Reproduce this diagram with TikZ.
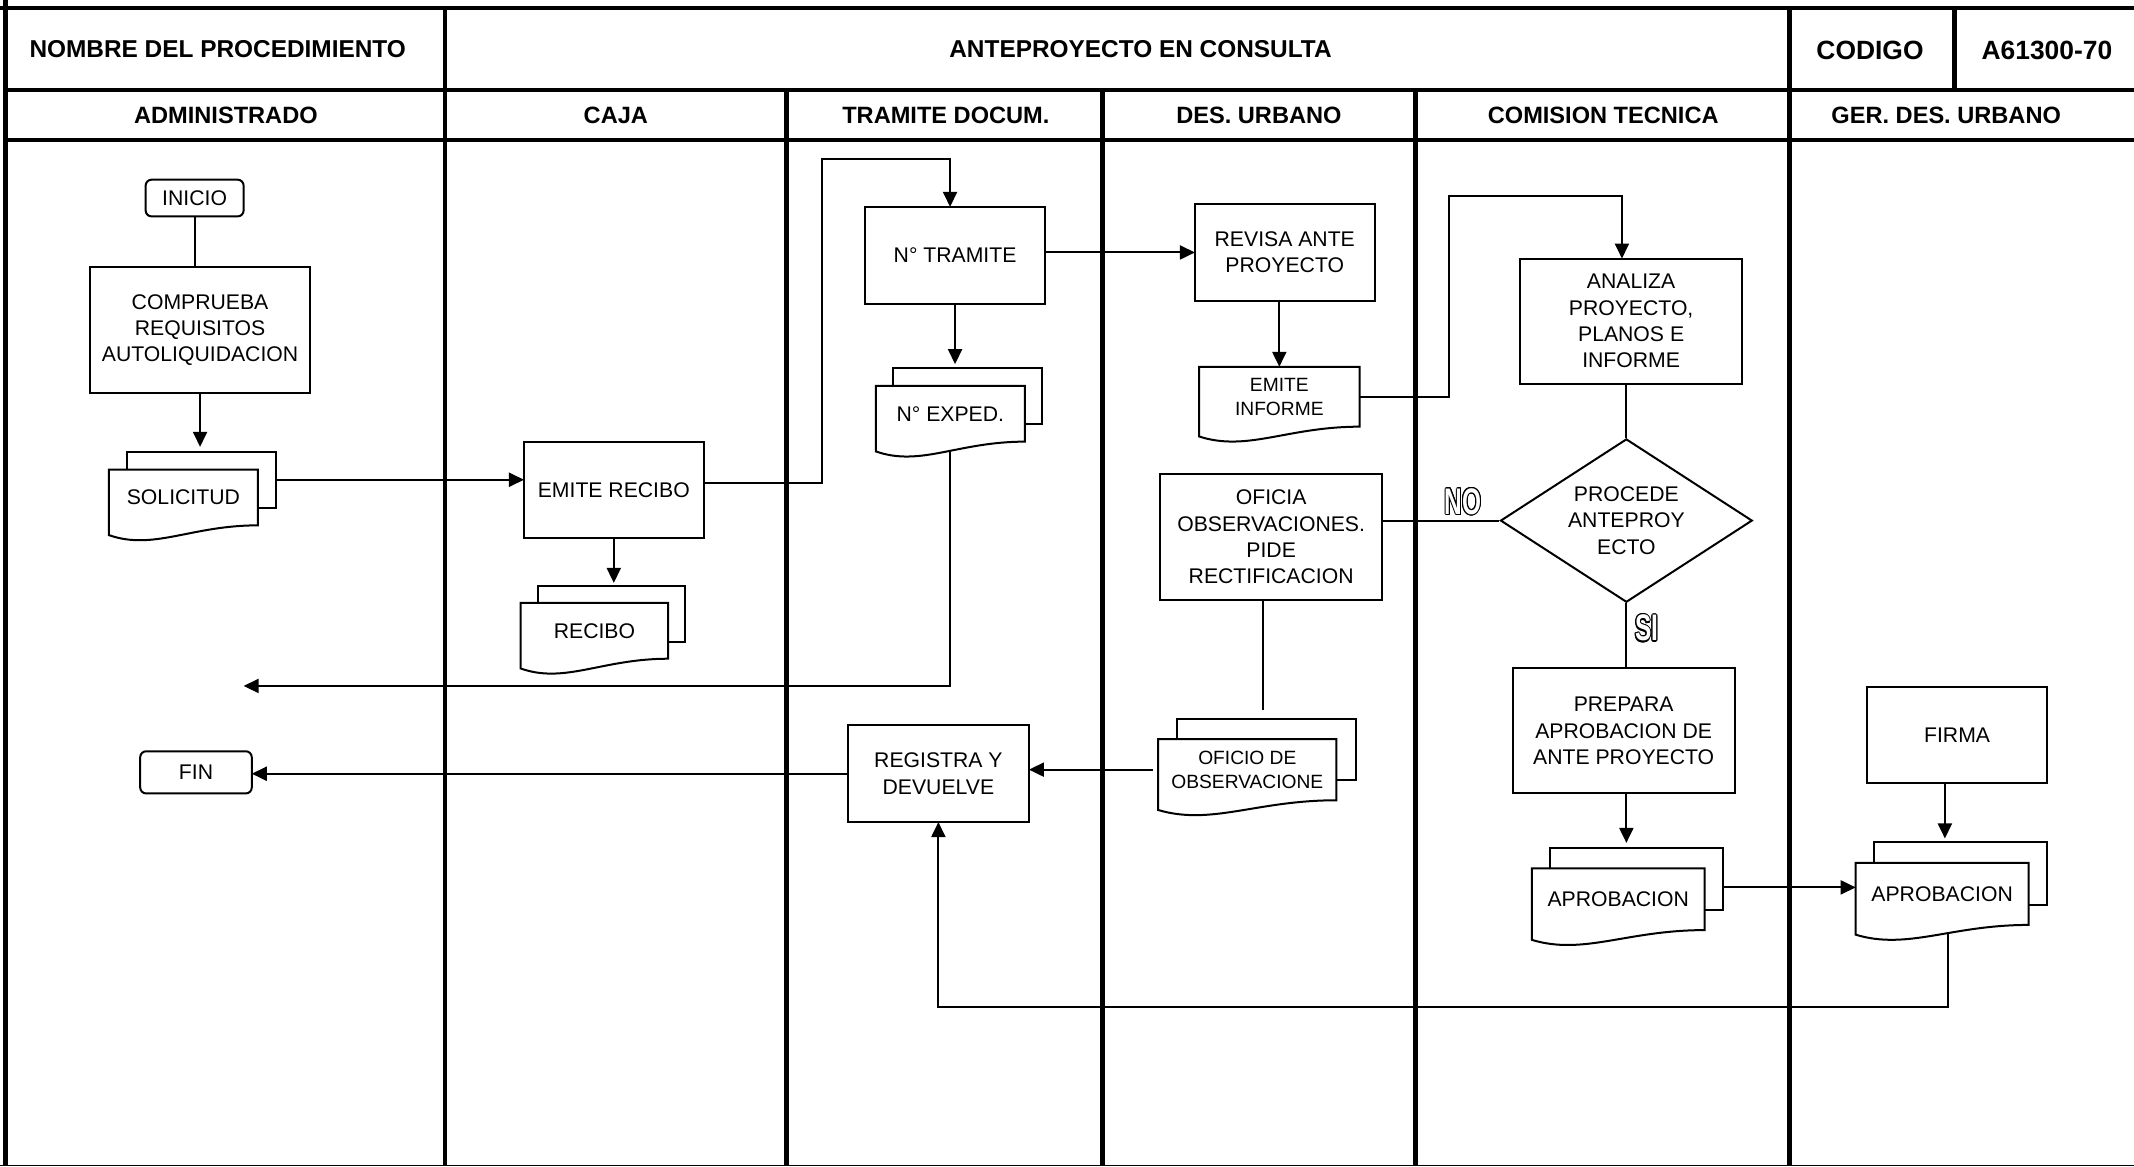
\documentclass[tikz,border=0pt]{standalone}
\usepackage{fontspec}
\setmainfont{Liberation Sans}
\usepackage{graphicx}
\usepackage{contour}
\contourlength{0.6pt}
\usetikzlibrary{arrows.meta,calc,shapes.geometric}
\pgfdeclarelayer{bg}\pgfdeclarelayer{conn}\pgfdeclarelayer{docs}
\pgfsetlayers{bg,conn,docs,main}
\def\pxu{0.6805pt}
\def\dd{7.5pt}
\newcommand\fs{\fontsize{10.6}{13.2}\selectfont}
\newcommand\fss{\fontsize{9.6}{11.8}\selectfont}
\newcommand\fh{\bfseries\fontsize{11.8}{14}\selectfont}
\newcommand\ft{\bfseries\fontsize{12.2}{14}\selectfont}
\newcommand\fc{\bfseries\fontsize{13.2}{15}\selectfont}
\newcommand\outl[1]{\scalebox{0.66}[1]{{\color{white}\bfseries\fontsize{18.5}{18.5}\selectfont\contour{black}{#1}}}}
\newcommand\docpath[1]{\path[docline] let \p1=(#1.north west), \p2=(#1.south east), \n1={\x2-\x1} in
  (\p1) -- (\x2,\y1) -- (\p2) .. controls (\x1+0.55*\n1,\y2) and (\x1+0.3*\n1,\y2-1.7*\dd) .. (\x1,\y2-0.65*\dd) -- cycle;}
\newcommand\backpath[1]{\path[docline] (#1-b.north west) rectangle (#1-b.south east);}
\tikzset{
  lane/.style={line width=2.25pt},
  thinline/.style={line width=0.9pt},
  sz/.style 2 args={minimum width=#1*\pxu, minimum height=#2*\pxu},
  box/.style={draw, line width=1pt, fill=white, align=center, inner sep=1pt, outer sep=0pt, font=\fs},
  term/.style={box, rounded corners=3pt},
  docbox/.style={align=center, inner sep=1pt, outer sep=0pt, font=\fs},
  docline/.style={draw, line width=1pt, fill=white},
  conn/.style={line width=1pt},
  arr/.style={conn, -{Triangle[length=7.5pt,width=7pt]}},
  hdr/.style={font=\fh, inner sep=0pt},
  lbl/.style={inner sep=0pt},
}
\begin{document}
\begin{tikzpicture}[x=\pxu, y=-\pxu]
\useasboundingbox (0,0) rectangle (1568,857);
% ---------- lanes ----------
\begin{pgfonlayer}{bg}
\draw[lane] (0,6) -- (1568,6);
\draw[lane] (4,0) -- (4,857);
\draw[lane] (4,66) -- (1568,66);
\draw[lane] (4,103) -- (1568,103);
\draw[lane] (327,6) -- (327,857);
\draw[lane] (1315,6) -- (1315,857);
\draw[lane] (1436,6) -- (1436,66);
\draw[lane] (578,66) -- (578,857);
\draw[lane] (810,66) -- (810,857);
\draw[lane] (1040,66) -- (1040,857);
\draw[thinline] (0,856.3) -- (1568,856.3);
\end{pgfonlayer}
% ---------- headers ----------
\node[hdr, font=\ft] (hnombre) at (160,36) {NOMBRE DEL PROCEDIMIENTO};
\node[hdr, font=\ft] (htitulo) at (838,36) {ANTEPROYECTO EN CONSULTA};
\node[hdr, font=\fc] (hcodigo) at (1374,37) {CODIGO};
\node[hdr, font=\fc] (hcod) at (1504,37) {A61300-70};
\node[hdr] (hadm) at (166,84.5) {ADMINISTRADO};
\node[hdr] (hcaja) at (452.5,84.5) {CAJA};
\node[hdr] (htram) at (695,84.5) {TRAMITE DOCUM.};
\node[hdr] (hdes) at (925,84.5) {DES. URBANO};
\node[hdr] (hcom) at (1178,84.5) {COMISION TECNICA};
\node[hdr] (hger) at (1430,84.5) {GER. DES. URBANO};
% ---------- nodes ----------
\node[term, sz={72}{27}] (inicio) at (143,145.5) {INICIO};
\node[box, sz={162}{93}] (comprueba) at (147,242.5) {COMPRUEBA\\REQUISITOS\\AUTOLIQUIDACION};
\node[docbox, sz={109.5}{41}] (solicitud) at (134.75,365.5) {SOLICITUD};
\node[docbox, sz={109.5}{41}] (solicitud-b) at (147.75,352.5) {};
\node[box, sz={132}{70}] (emiterecibo) at (451,360) {EMITE RECIBO};
\node[docbox, sz={108.4}{41}] (recibo) at (436.8,463.5) {RECIBO};
\node[docbox, sz={108.4}{41}] (recibo-b) at (449.3,451) {};
\node[box, sz={132.5}{71}] (tramite) at (701.75,187.5) {N° TRAMITE};
\node[docbox, sz={109.5}{41}] (exped) at (698.25,304) {N° EXPED.};
\node[docbox, sz={109.5}{41}] (exped-b) at (710.75,291) {};
\node[box, sz={132}{71}] (revisa) at (944,185.5) {REVISA ANTE\\PROYECTO};
\node[docbox, sz={118}{44}, font=\fss] (informe) at (940,291.5) {EMITE\\INFORME};
\node[box, sz={163}{92}] (analiza) at (1198.5,236) {ANALIZA\\PROYECTO,\\PLANOS E\\INFORME};
\node[diamond, draw, line width=1pt, fill=white, shape aspect=1.54, sz={185}{120}, inner sep=0pt, align=center, font=\fs] (procede) at (1195,382.5) {PROCEDE\\ANTEPROY\\ECTO};
\node[box, sz={163}{93}] (oficia) at (934,394.5) {OFICIA\\OBSERVACIONES.\\PIDE\\RECTIFICACION};
\node[docbox, sz={131}{45}, font=\fss] (oficio) at (916.5,565.5) {OFICIO DE\\OBSERVACIONE};
\node[docbox, sz={131}{45}] (oficio-b) at (930.5,550.5) {};
\node[box, sz={133}{71}] (registra) at (689.5,568.5) {REGISTRA Y\\DEVUELVE};
\node[term, sz={82}{31}] (fin) at (144,567.5) {FIN};
\node[box, sz={163}{92}] (prepara) at (1193,537) {PREPARA\\APROBACION DE\\ANTE PROYECTO};
\node[docbox, sz={127}{45.4}] (aprob1) at (1189,660.7) {APROBACION};
\node[docbox, sz={127}{45.4}] (aprob1-b) at (1202.5,645.7) {};
\node[box, sz={132}{70.5}] (firma) at (1438,540) {FIRMA};
\node[docbox, sz={127}{45.6}] (aprob2) at (1427,656.8) {APROBACION};
\node[docbox, sz={127}{45.6}] (aprob2-b) at (1440.5,641.8) {};
\node[lbl] (no) at (1075,369) {\outl{NO}};
\node[lbl] (si) at (1210,462) {\outl{SI}};
% ---------- document shapes ----------
\begin{pgfonlayer}{docs}
\backpath{solicitud}\docpath{solicitud}
\backpath{recibo}\docpath{recibo}
\backpath{exped}\docpath{exped}
\docpath{informe}
\backpath{oficio}\docpath{oficio}
\backpath{aprob1}\docpath{aprob1}
\backpath{aprob2}\docpath{aprob2}
\end{pgfonlayer}
% ---------- helper coordinates ----------
\coordinate (c1) at (604,117);
\coordinate (ret1) at (179,504);
\coordinate (c2) at (1065,144);
\coordinate (c3) at (928,521.7);
\coordinate (c4) at (1431,740);
\coordinate (e1) at ([yshift=3.4pt]emiterecibo.east);
\coordinate (t1) at ([xshift=-2.5pt]tramite.north);
\coordinate (an1) at ([xshift=-4.6pt]analiza.north);
\coordinate (a1) at ([yshift=-4.3pt]aprob1-b.east);
\coordinate (f1) at ([xshift=-6.1pt]firma.south);
% ---------- connectors ----------
\begin{pgfonlayer}{conn}
\draw[conn] (inicio.south) -- (inicio.south |- comprueba.north);
\draw[arr, shorten >=2.5pt] (comprueba.south) -- (comprueba.south |- solicitud-b.north);
\draw[arr] (solicitud-b.east) -- (solicitud-b.east -| emiterecibo.west);
\draw[arr, shorten >=1.5pt] (emiterecibo.south) -- (emiterecibo.south |- recibo-b.north);
\draw[arr] (e1) -| (c1) -| (t1);
\draw[arr] (revisa.west -| tramite.east) -- (revisa.west);
\draw[arr, shorten >=2pt] (tramite.south) -- (tramite.south |- exped-b.north);
\draw[arr] (exped) |- (ret1);
\draw[arr] (informe.north |- revisa.south) -- (informe.north);
\draw[arr] (informe.east) -| (c2) -| (an1);
\draw[conn] (procede.north |- analiza.south) -- (procede.north);
\draw[conn] (procede.west) -- (procede.west -| oficia.east);
\draw[conn] (c3 |- oficia.south) -- (c3);
\draw[arr, shorten <=2.7pt] (oficio.west) -- (oficio.west -| registra.east);
\draw[arr] (registra.west) -- (registra.west -| fin.east);
\draw[conn] (procede.south) -- (procede.south |- prepara.north);
\draw[arr, shorten >=2.5pt] (prepara.south -| procede.south) -- (procede.south |- aprob1-b.north);
\draw[arr] (a1) -- (a1 -| aprob2.west);
\draw[arr, shorten >=2pt] (f1) -- (f1 |- aprob2-b.north);
\draw[arr] (c4 |- aprob2.center) -- (c4) -| (registra.south);
\end{pgfonlayer}
\end{tikzpicture}
\end{document}
